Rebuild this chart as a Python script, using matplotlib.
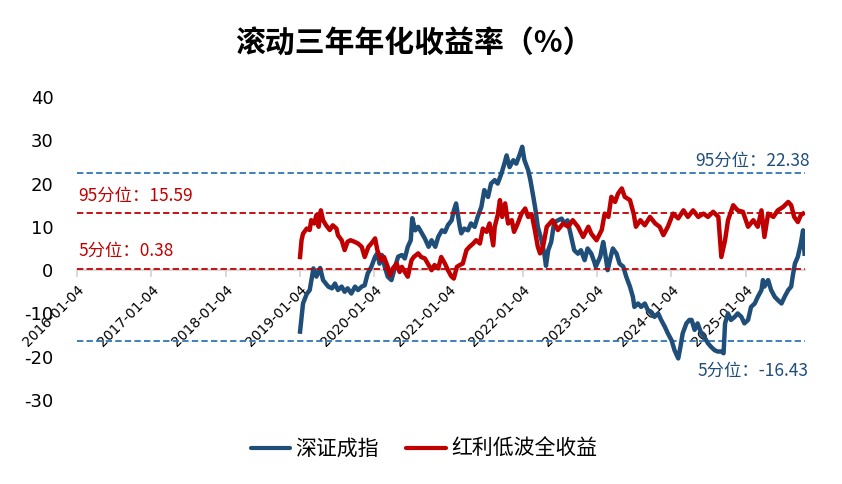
import matplotlib
matplotlib.use('Agg')
import matplotlib.pyplot as plt
from matplotlib.lines import Line2D

plt.rcParams['font.family'] = ['Noto Sans CJK SC', 'DejaVu Sans']

title = '滚动三年年化收益率（%）'
series_names = ['深证成指', '红利低波全收益']

# x axis: time in decimal years (2016-01-04 ~ 2016.008)
tick_pos = [2016.008, 2017.008, 2018.008, 2019.008, 2020.008,
            2021.008, 2022.008, 2023.008, 2024.008, 2025.008]
tick_labels = ['2016-01-04', '2017-01-04', '2018-01-04', '2019-01-04', '2020-01-04',
               '2021-01-04', '2022-01-04', '2023-01-04', '2024-01-04', '2025-01-04']
y_ticks = [-30, -20, -10, 0, 10, 20, 30, 40]

# 深证成指 rolling 3y annualised return (%)
blue_t = [2019.01, 2019.05, 2019.10, 2019.14, 2019.19, 2019.23, 2019.28, 2019.32, 2019.39, 2019.44,
          2019.48, 2019.52, 2019.57, 2019.61, 2019.65, 2019.70, 2019.75, 2019.79, 2019.84, 2019.88,
          2019.92, 2019.97, 2020.02, 2020.05, 2020.08, 2020.11, 2020.15, 2020.19, 2020.24, 2020.29,
          2020.33, 2020.38, 2020.42, 2020.46, 2020.50, 2020.52, 2020.56, 2020.60, 2020.65, 2020.69,
          2020.74, 2020.78, 2020.83, 2020.87, 2020.92, 2020.96, 2021.00, 2021.05, 2021.08, 2021.11,
          2021.16, 2021.18, 2021.22, 2021.27, 2021.31, 2021.36, 2021.40, 2021.45, 2021.49, 2021.54,
          2021.58, 2021.63, 2021.67, 2021.72, 2021.76, 2021.79, 2021.83, 2021.88, 2021.92, 2021.97,
          2022.00, 2022.03, 2022.08, 2022.11, 2022.15, 2022.18, 2022.21, 2022.26, 2022.30, 2022.32,
          2022.35, 2022.39, 2022.43, 2022.48, 2022.53, 2022.57, 2022.61, 2022.64, 2022.66, 2022.70,
          2022.75, 2022.79, 2022.84, 2022.88, 2022.93, 2022.97, 2022.99, 2023.05, 2023.09, 2023.11,
          2023.15, 2023.18, 2023.22, 2023.27, 2023.31, 2023.36, 2023.40, 2023.45, 2023.49, 2023.51,
          2023.56, 2023.60, 2023.65, 2023.69, 2023.74, 2023.78, 2023.83, 2023.87, 2023.92, 2023.96,
          2024.01, 2024.05, 2024.10, 2024.13, 2024.16, 2024.21, 2024.25, 2024.28, 2024.32, 2024.36,
          2024.41, 2024.45, 2024.50, 2024.54, 2024.59, 2024.63, 2024.68, 2024.71, 2024.73, 2024.77,
          2024.81, 2024.86, 2024.90, 2024.95, 2024.99, 2025.04, 2025.08, 2025.13, 2025.17, 2025.22,
          2025.24, 2025.26, 2025.31, 2025.35, 2025.40, 2025.44, 2025.49, 2025.53, 2025.58, 2025.62,
          2025.64, 2025.67, 2025.71, 2025.75, 2025.78, 2025.80]
blue_v = [-14.2, -7.7, -5.5, -4.6, 0.4, -1.5, 0.5, -2.3, -3.8, -4.2,
          -3.1, -4.6, -3.8, -5.0, -4.2, -5.4, -3.8, -4.6, -3.8, -3.5,
          -0.8, 0.8, 3.1, 3.9, 1.5, 3.5, 0.8, -1.5, -2.3, 0.8,
          3.1, 3.5, 2.7, 5.4, 6.9, 12.0, 9.2, 10.0, 8.5, 7.3,
          5.4, 6.9, 5.4, 7.7, 9.2, 8.8, 10.4, 11.5, 13.8, 15.4,
          10.0, 8.5, 9.6, 9.2, 10.8, 10.0, 12.3, 14.6, 18.5, 16.9,
          20.0, 20.8, 20.0, 22.3, 24.6, 26.5, 23.8, 25.4, 24.6, 26.9,
          28.5, 25.4, 23.1, 20.8, 16.9, 13.8, 10.0, 6.9, 3.5, 1.0,
          4.6, 6.5, 11.0, 11.5, 11.9, 10.8, 11.5, 9.2, 7.7, 4.6,
          3.8, 4.6, 2.3, 5.0, 3.8, 1.9, 0.8, 3.1, 6.5, 4.6,
          0.0, 2.3, 5.0, 3.8, 1.5, 0.8, -1.5, -3.8, -6.2, -8.5,
          -7.7, -8.5, -7.7, -9.2, -10.0, -10.8, -10.0, -11.5, -13.1, -14.6,
          -16.2, -18.5, -20.4, -17.7, -14.6, -12.3, -11.5, -11.5, -13.8, -12.3,
          -14.6, -15.4, -16.9, -17.7, -18.5, -18.8, -18.8, -19.2, -12.3, -10.0,
          -11.5, -10.8, -10.0, -10.8, -12.3, -11.5, -8.5, -7.7, -6.2, -4.6,
          -2.3, -3.8, -2.3, -4.6, -6.2, -6.9, -7.7, -6.2, -4.6, -3.8,
          -1.5, 1.5, 3.1, 6.2, 9.2, 3.8]

# 红利低波全收益 rolling 3y annualised return (%), secondary axis
red_t = [2019.01, 2019.03, 2019.05, 2019.10, 2019.14, 2019.16, 2019.20, 2019.23, 2019.26, 2019.29,
         2019.32, 2019.36, 2019.41, 2019.45, 2019.50, 2019.52, 2019.57, 2019.61, 2019.65, 2019.69,
         2019.74, 2019.79, 2019.84, 2019.88, 2019.93, 2019.97, 2020.02, 2020.05, 2020.10, 2020.14,
         2020.19, 2020.22, 2020.26, 2020.31, 2020.35, 2020.38, 2020.42, 2020.46, 2020.51, 2020.54,
         2020.60, 2020.64, 2020.69, 2020.73, 2020.78, 2020.82, 2020.87, 2020.91, 2020.96, 2021.00,
         2021.05, 2021.08, 2021.12, 2021.16, 2021.20, 2021.25, 2021.29, 2021.34, 2021.38, 2021.43,
         2021.47, 2021.52, 2021.56, 2021.61, 2021.63, 2021.67, 2021.70, 2021.73, 2021.77, 2021.81,
         2021.86, 2021.89, 2021.94, 2021.99, 2022.04, 2022.08, 2022.13, 2022.17, 2022.21, 2022.24,
         2022.28, 2022.33, 2022.37, 2022.41, 2022.48, 2022.55, 2022.62, 2022.68, 2022.75, 2022.82,
         2022.89, 2022.93, 2023.00, 2023.07, 2023.11, 2023.16, 2023.20, 2023.25, 2023.29, 2023.34,
         2023.38, 2023.45, 2023.50, 2023.53, 2023.59, 2023.65, 2023.72, 2023.79, 2023.85, 2023.90,
         2023.96, 2024.03, 2024.10, 2024.17, 2024.23, 2024.30, 2024.37, 2024.44, 2024.50, 2024.57,
         2024.64, 2024.68, 2024.73, 2024.77, 2024.84, 2024.90, 2024.97, 2025.04, 2025.11, 2025.17,
         2025.22, 2025.26, 2025.31, 2025.38, 2025.44, 2025.51, 2025.58, 2025.62, 2025.66, 2025.71,
         2025.75, 2025.78]
red_v = [3.6, 8.2, 10.0, 11.4, 11.0, 13.7, 12.8, 15.1, 11.9, 16.4,
         13.7, 12.3, 11.0, 12.3, 11.4, 9.6, 8.2, 5.5, 7.8, 8.2,
         7.8, 7.3, 6.4, 3.6, 6.4, 7.3, 8.7, 5.5, 2.7, 3.6,
         0.9, -1.4, 0.5, 1.8, -0.5, 0.9, -0.5, -1.8, 2.7, 3.6,
         4.6, 3.6, 3.2, 1.8, 0.0, 1.4, 0.5, 3.6, 1.8, 0.0,
         -1.8, -2.3, 0.9, 1.4, 1.8, 5.5, 6.4, 7.3, 8.2, 7.3,
         11.4, 10.5, 12.8, 6.8, 11.9, 15.1, 19.2, 14.6, 18.3, 12.8,
         13.7, 10.5, 12.8, 15.5, 16.9, 14.6, 15.1, 11.0, 6.4, 4.6,
         6.4, 11.9, 12.8, 13.7, 11.0, 12.8, 11.9, 13.7, 11.9, 9.1,
         11.9, 10.0, 8.2, 11.0, 15.5, 14.6, 20.1, 18.7, 21.0, 22.4,
         20.1, 19.2, 15.5, 11.9, 13.7, 12.3, 14.6, 12.8, 11.9, 9.6,
         11.9, 15.5, 14.2, 16.4, 14.6, 16.4, 14.6, 15.5, 14.6, 16.0,
         14.6, 3.6, 8.2, 13.7, 17.8, 16.4, 16.0, 11.9, 13.7, 11.9,
         16.4, 9.1, 15.5, 14.6, 16.4, 17.3, 18.7, 17.8, 14.6, 13.2,
         15.1, 15.5]

szcz_p95, szcz_p5 = 22.38, -16.43
hl_p95, hl_p5 = 15.59, 0.38

c_blue = '#1f4e79'
c_red = '#c00000'
c_dash_blue = '#2e75b6'

W, H = 842, 484
fig = plt.figure(figsize=(W / 100, H / 100), dpi=100)
ax = fig.add_axes([77 / W, 1 - 400 / H, 728 / W, 303 / H])
ax2 = ax.twinx()

ymin, ymax = -30, 40
scale = 1.187  # secondary axis units per primary unit
ax.set_ylim(ymin, ymax)
ax2.set_ylim(ymin * scale, ymax * scale)
xmin, xmax = 2016.008, 2025.806
ax.set_xlim(xmin, xmax)

ax.plot(blue_t, blue_v, color=c_blue, lw=3.2, solid_joinstyle='round', zorder=3)
ax2.plot(red_t, red_v, color=c_red, lw=3.2, solid_joinstyle='round', zorder=3)

dash = (3.5, 1.8)
ax.axhline(szcz_p95, color=c_dash_blue, lw=1.3, dashes=dash, zorder=2)
ax.axhline(szcz_p5, color=c_dash_blue, lw=1.3, dashes=dash, zorder=2)
ax2.axhline(hl_p95, color=c_red, lw=1.3, dashes=dash, zorder=2)
ax2.axhline(hl_p5, color=c_red, lw=1.3, dashes=dash, zorder=2)

for s in ['top', 'right', 'left']:
    ax.spines[s].set_visible(False)
for s in ax2.spines.values():
    s.set_visible(False)
ax.spines['bottom'].set_position(('data', 0))
ax.spines['bottom'].set_color('#d9d9d9')
ax.spines['bottom'].set_linewidth(1.6)
ax.spines['bottom'].set_zorder(1)

ax.set_xticks(tick_pos)
ax.set_xticklabels(tick_labels, rotation=45, ha='right', rotation_mode='anchor',
                   fontsize=10, family='DejaVu Sans')
ax.tick_params(axis='x', direction='out', length=5, width=1.4, color='#d9d9d9', pad=4)
ax.set_yticks(y_ticks)
ax.set_yticklabels([str(v) for v in y_ticks], fontsize=13, family='DejaVu Sans')
ax.tick_params(axis='y', length=0, pad=17)
ax2.set_yticks([])

fig.text(414 / W, 1 - 44 / H, title, ha='center', va='center', fontsize=21.5,
         fontweight='bold', color='black')

ann_fs = 12.5
fig.text(810 / W, 1 - 161 / H, f'95分位：{szcz_p95:.2f}', ha='right', va='center',
         fontsize=ann_fs, color=c_blue)
fig.text(808 / W, 1 - 371 / H, f'5分位：{szcz_p5:.2f}', ha='right', va='center',
         fontsize=ann_fs, color=c_blue)
fig.text(78 / W, 1 - 196 / H, f'95分位：{hl_p95:.2f}', ha='left', va='center',
         fontsize=ann_fs, color=c_red)
fig.text(78 / W, 1 - 251 / H, f'5分位：{hl_p5:.2f}', ha='left', va='center',
         fontsize=ann_fs, color=c_red)

handles = [Line2D([], [], color=c_blue, lw=3, solid_capstyle='round'),
           Line2D([], [], color=c_red, lw=3, solid_capstyle='round')]
fig.legend(handles, series_names, loc='center', bbox_to_anchor=(424 / W, 1 - 449 / H),
           ncol=2, frameon=False, fontsize=15, handlelength=1.9, handletextpad=0.25,
           columnspacing=1.3)

fig.savefig('out.png', dpi=100, facecolor='white')
